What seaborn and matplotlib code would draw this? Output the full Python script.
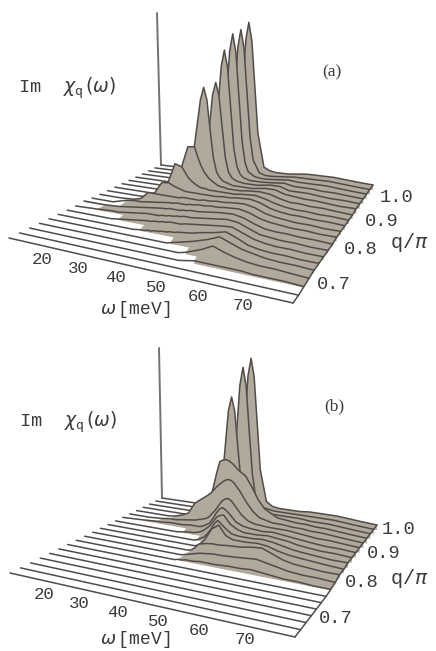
import matplotlib
matplotlib.use("Agg")
import matplotlib.pyplot as plt
import numpy as np
import seaborn as sns

OMEGA = [10, 16, 20, 22, 24, 26, 28, 30, 32, 33, 34, 35, 36, 37, 38, 39, 40, 41, 42,
         44, 46, 48, 52, 55, 58, 61, 64, 67, 71, 75, 80]
Q_SLICES = [1.000, 0.982, 0.964, 0.946, 0.928, 0.910, 0.892, 0.874, 0.856, 0.838,
            0.820, 0.802, 0.784, 0.766, 0.748, 0.730, 0.712, 0.694, 0.676, 0.658]
OMEGA_TICKS = [20, 30, 40, 50, 60, 70]
Q_TICKS = [0.7, 0.8, 0.9, 1.0]
AXIS_HEIGHT = [152, 150]

# rows run from q/pi = 1.0 (back) to the front slice
CHI_A = [
    [0, 0, 0, 0, 0, 0, 0, 0, 0, 2, 10, 18, 43, 89, 135, 153, 135, 89, 43, 10, 7, 6, 6, 7, 8, 8, 8, 8, 7, 6, 5],
    [0, 0, 0, 0, 0, 0, 0, 0, 2, 8, 17, 40, 86, 131, 149, 131, 86, 42, 20, 8, 6, 6, 7, 8, 8, 8, 8, 8, 7, 6, 5],
    [0, 0, 0, 0, 0, 0, 0, 1, 8, 17, 40, 85, 130, 148, 130, 85, 42, 20, 12, 8, 7, 7, 8, 9, 8, 8, 8, 8, 7, 6, 5],
    [0, 0, 0, 0, 0, 0, 0, 2, 15, 35, 78, 118, 135, 118, 78, 38, 20, 13, 10, 8, 8, 8, 9, 10, 8, 8, 8, 7, 7, 6, 5],
    [0, 0, 0, 0, 0, 0, 1, 6, 30, 60, 93, 106, 93, 62, 32, 18, 13, 11, 10, 9, 9, 9, 11, 11, 8, 8, 8, 7, 6, 6, 5],
    [0, 0, 0, 0, 0, 0, 5, 40, 91, 104, 92, 62, 35, 21, 16, 13, 12, 11, 10, 10, 10, 10, 12, 12, 9, 8, 7, 7, 6, 5, 5],
    [0, 0, 0, 0, 0, 4, 25, 47, 48, 38, 30, 24, 20, 17, 15, 13, 12, 12, 11, 11, 11, 12, 13, 12, 9, 7, 7, 6, 6, 5, 4],
    [0, 0, 0, 0, 2, 14, 33, 31, 21, 18, 16, 14, 13, 13, 12, 12, 12, 12, 12, 12, 12, 13, 14, 12, 9, 7, 6, 6, 5, 5, 4],
    [0, 0, 0, 1, 6, 17, 18, 15, 13, 12, 12, 12, 12, 12, 12, 12, 12, 12, 12, 13, 13, 14, 15, 13, 9, 7, 6, 6, 5, 5, 4],
    [0, 0, 1, 3, 10, 10, 10, 10, 10, 10, 11, 11, 11, 11, 11, 11, 12, 12, 12, 13, 13, 14, 15, 13, 9, 7, 6, 5, 5, 4, 4],
    [0, 0, 4, 5, 5, 6, 7, 8, 9, 9, 10, 10, 10, 10, 11, 11, 12, 12, 12, 13, 13, 14, 15, 13, 9, 7, 6, 5, 5, 4, 4],
    [1, 1, 2, 3, 4, 5, 6, 7, 8, 8, 9, 9, 9, 9, 10, 10, 11, 11, 11, 12, 13, 14, 15, 13, 9, 6, 5, 5, 4, 4, 3],
    [0, 1, 2, 2, 3, 4, 5, 6, 6, 6, 7, 7, 8, 8, 9, 9, 10, 10, 10, 11, 12, 13, 15, 14, 10, 6, 5, 4, 4, 3, 3],
    [0, 0, 0, 0, 1, 2, 3, 4, 5, 5, 6, 6, 7, 7, 8, 8, 8, 8, 9, 10, 11, 12, 14, 15, 11, 7, 5, 4, 4, 3, 3],
    [0, 0, 0, 0, 0, 0, 0, 0, 1, 1, 2, 2, 3, 3, 4, 4, 5, 5, 6, 7, 8, 10, 13, 16, 12, 7, 5, 4, 4, 3, 3],
    [0, 0, 0, 0, 0, 0, 0, 0, 0, 0, 0, 0, 0, 0, 0, 0, 0, 0, 1, 3, 5, 7, 12, 17, 13, 9, 7, 5, 4, 4, 3],
    [0, 0, 0, 0, 0, 0, 0, 0, 0, 0, 0, 0, 0, 0, 0, 0, 0, 0, 0, 0, 0, 2, 8, 14, 10, 7, 5, 4, 4, 3, 2],
    [0, 0, 0, 0, 0, 0, 0, 0, 0, 0, 0, 0, 0, 0, 0, 0, 0, 0, 0, 0, 0, 0, 3, 3, 3, 3, 3, 2, 2, 2, 1],
    [0] * 31,
    [0] * 31,
]

CHI_B = [
    [0, 0, 0, 0, 0, 0, 0, 0, 0, 2, 10, 18, 43, 89, 135, 153, 135, 89, 43, 12, 8, 7, 7, 7, 8, 8, 8, 8, 7, 6, 5],
    [0, 0, 0, 0, 0, 0, 0, 0, 2, 8, 17, 38, 84, 129, 147, 129, 84, 42, 20, 10, 9, 8, 8, 8, 8, 8, 8, 8, 7, 6, 5],
    [0, 0, 0, 0, 0, 0, 0, 0, 14, 34, 70, 106, 120, 106, 70, 36, 20, 15, 13, 11, 10, 9, 9, 9, 9, 8, 8, 8, 7, 6, 5],
    [0, 0, 0, 0, 0, 0, 0, 4, 32, 46, 58, 60, 61, 60, 58, 55, 52, 50, 48, 38, 26, 18, 11, 10, 9, 9, 8, 8, 7, 6, 5],
    [0, 0, 0, 1, 3, 6, 17, 22, 27, 30, 34, 38, 41, 44, 46, 46, 44, 40, 36, 26, 18, 13, 10, 10, 9, 9, 8, 8, 7, 6, 5],
    [0, 0, 1, 2, 2, 3, 4, 5, 7, 8, 10, 14, 18, 23, 28, 31, 32, 30, 26, 18, 13, 11, 10, 10, 10, 9, 8, 7, 7, 6, 5],
    [0, 1, 2, 2, 3, 3, 3, 4, 4, 4, 5, 7, 9, 14, 20, 25, 27, 25, 22, 15, 12, 11, 10, 11, 10, 9, 8, 7, 6, 6, 5],
    [0, 0, 0, 0, 0, 0, 0, 1, 2, 2, 3, 4, 6, 9, 12, 17, 22, 24, 25, 17, 13, 11, 11, 12, 11, 10, 8, 7, 6, 6, 5],
    [0, 0, 0, 0, 0, 0, 0, 0, 0, 0, 0, 0, 1, 3, 5, 9, 14, 20, 24, 18, 13, 12, 12, 13, 12, 10, 8, 7, 6, 5, 5],
    [0, 0, 0, 0, 0, 0, 0, 0, 0, 0, 0, 0, 0, 0, 1, 4, 8, 14, 20, 25, 16, 13, 13, 14, 13, 10, 8, 7, 6, 5, 4],
    [0, 0, 0, 0, 0, 0, 0, 0, 0, 0, 0, 0, 0, 0, 1, 4, 8, 9, 10, 11, 11, 12, 13, 15, 16, 12, 8, 6, 5, 4, 4],
    [0, 0, 0, 0, 0, 0, 0, 0, 0, 0, 0, 0, 0, 0, 1, 2, 3, 4, 5, 6, 7, 7, 8, 9, 10, 8, 6, 4, 3, 3, 2],
    [0, 0, 0, 0, 0, 0, 0, 0, 0, 0, 0, 0, 0, 0, 1, 1, 2, 2, 2, 3, 3, 3, 4, 4, 5, 4, 3, 2, 2, 1, 1],
    [0] * 31, [0] * 31, [0] * 31, [0] * 31, [0] * 31, [0] * 31, [0] * 31,
]

FILL = "#b2a99d"
INK = "#504c49"
TEXT = "#3c3a38"

sns.set_theme(style="white", rc={"mathtext.fontset": "dejavusans"})
plt.rcParams["font.family"] = ["Liberation Mono", "DejaVu Sans Mono"]


def make_projection(back_left, back_right, front_left, front_right):
    # slices crowd together towards the back, omega runs evenly along each slice
    corners = np.array([back_left, back_right, front_left, front_right], float)
    shrink = (back_right[0] - back_left[0]) / (front_right[0] - front_left[0])

    def project(omega, q, z=0.0):
        u = (np.asarray(omega, float) - OMEGA[0]) / (OMEGA[-1] - OMEGA[0])
        v = (Q_SLICES[0] - np.asarray(q, float)) / (Q_SLICES[0] - Q_SLICES[-1])
        v = v * shrink / (1 - v * (1 - shrink))
        back = corners[0][:, None] + (corners[1] - corners[0])[:, None] * np.atleast_1d(u)
        front = corners[2][:, None] + (corners[3] - corners[2])[:, None] * np.atleast_1d(u)
        x, y = back + (front - back) * np.atleast_1d(v)
        return x, y - np.asarray(z, float)

    return project


def draw_panel(ax, chi, corners, axis_height, axis_lean, letter, letter_xy, chi_xy, q_offsets, omega_y, q_label_y):
    project = make_projection(*corners)
    chi = np.array(chi, float)
    omega = np.array(OMEGA, float)
    order = 10

    for i, q in enumerate(Q_SLICES):
        x, y = project(omega, q, chi[i])
        bx, by = project(omega, q)
        on = np.nonzero(chi[i] > 0)[0]
        if on.size:
            a, b = on[0], on[-1] + 1
            ax.fill(np.r_[x[a:b], bx[a:b][::-1]], np.r_[y[a:b], by[a:b][::-1]],
                    color=FILL, lw=0, zorder=order)
        if i + 1 < len(Q_SLICES):
            both = np.nonzero((chi[i] > 0) & (chi[i + 1] > 0))[0]
            if both.size:
                a, b = both[0], both[-1] + 1
                nx, ny = project(omega, Q_SLICES[i + 1], chi[i + 1])
                ax.fill(np.r_[x[a:b], nx[a:b][::-1]], np.r_[y[a:b], ny[a:b][::-1]],
                        color=FILL, lw=0, zorder=order + 1)
        sns.lineplot(x=x, y=y, ax=ax, sort=False, estimator=None, color=INK, lw=1.1, zorder=order + 2)
        order += 3

    # right hand edge and the vertical axis
    ex, ey = [], []
    for i, q in enumerate(Q_SLICES):
        px, py = project(OMEGA[-1], q, chi[i, -1])
        ex.append(px[0])
        ey.append(py[0])
    sns.lineplot(x=ex, y=ey, ax=ax, sort=False, estimator=None, color=INK, lw=1.1, zorder=order)
    px, py = project(OMEGA[0], Q_SLICES[0])
    sns.lineplot(x=[px[0], px[0] - axis_lean], y=[py[0], py[0] - axis_height], ax=ax, sort=False,
                 estimator=None, color="#77726e", lw=1.4, zorder=5)

    for w, off_x in zip(OMEGA_TICKS, [-7, -12, -15, -15, -14, -9]):
        x, y = project(w, Q_SLICES[-1])
        ax.text(x[0] + off_x, y[0] + 12, str(w), ha="center", va="center", fontsize=12.5, color=TEXT)
    for q, (off_x, off_y) in zip(Q_TICKS, q_offsets):
        x, y = project(OMEGA[-1], q)
        ax.text(x[0] + off_x, y[0] + off_y, f"{q:.1f}", ha="center", va="center", fontsize=13.5, color=TEXT)

    ax.text(135, omega_y, r"$\omega\,$[meV]", ha="center", va="center", fontsize=13, color=TEXT)
    ax.text(409, q_label_y, r"q/$\pi$", ha="center", va="center", fontsize=14.5, color=TEXT)
    ax.text(chi_xy[0], chi_xy[1], r"Im  $\chi_{\mathtt{q}}\,(\omega)$", ha="center", va="center",
            fontsize=13.5, color=TEXT)
    ax.text(letter_xy[0], letter_xy[1], letter, ha="center", va="center", fontsize=12.5, color=TEXT,
            family="Liberation Serif")


fig = plt.figure(figsize=(4.36, 6.51), dpi=100, facecolor="white")
ax = fig.add_axes([0, 0, 1, 1])

draw_panel(ax, CHI_A, ((161, 165), (373, 190), (9, 238), (293, 303)), AXIS_HEIGHT[0], 4, "(a)", (332, 72), (67, 88),
           [(28, -1), (29, 2), (28, 5), (24, 7)], 309, 243)
draw_panel(ax, CHI_B, ((162, 498), (377, 530), (10, 573), (295, 637)), AXIS_HEIGHT[1], 3, "(b)", (334, 406), (68, 422),
           [(28, -2), (27, -3), (26, -2), (22, 0)], 640, 578)

ax.set_xlim(0, 436)
ax.set_ylim(651, 0)
ax.axis("off")
fig.savefig("out.png", dpi=100)
